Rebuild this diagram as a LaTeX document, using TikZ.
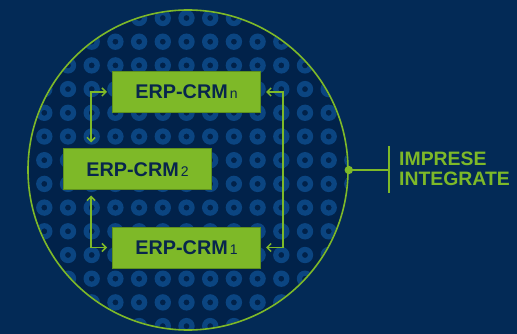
\documentclass[tikz,border=0pt]{standalone}
\usepackage{fontspec}
\setmainfont{Liberation Sans}
\usetikzlibrary{arrows.meta}
\definecolor{bgout}{HTML}{032A56}
\definecolor{bgin}{HTML}{01224A}
\definecolor{ringc}{HTML}{0B4581}
\definecolor{lgreen}{HTML}{7EB928}
\definecolor{dgreen}{HTML}{5E901E}
\definecolor{navytxt}{HTML}{08264C}
\tikzset{
  erpbox/.style={draw=dgreen, line width=1pt, fill=lgreen, minimum width=148pt, minimum height=41pt, inner sep=0pt, text=navytxt, font=\fontsize{19.8}{20}\selectfont\bfseries},
  conn/.style={draw=lgreen, line width=1.5pt, {Straight Barb[length=4pt,width=8pt]}-{Straight Barb[length=4pt,width=8pt]}},
  gline/.style={draw=lgreen, line width=1.6pt}
}
\newcommand{\erp}[1]{ERP-CRM\kern2pt{\fontsize{14}{14}\selectfont\mdseries #1}}
\begin{document}
\begin{tikzpicture}[x=1pt,y=-1pt]
\fill[bgout] (0,0) rectangle (517,334);
\useasboundingbox (0,0) rectangle (517,334);
\fill[bgin] (188,170) circle (160);
\begin{scope}
  \clip (188,170) circle (159);
  \foreach \i in {-1,...,14}{
    \foreach \j in {-1,...,14}{
      \fill[ringc, even odd rule] ({44.3+23.7*\i},{18+23.7*\j}) circle (8.2) ({44.3+23.7*\i},{18+23.7*\j}) circle (3.0);
    }
  }
\end{scope}
\node[draw=lgreen, line width=1.6pt, circle, minimum size=320pt, inner sep=0pt] (big) at (188,170) {};

\node[erpbox] (bn) at (186.5,92) {\erp{n}};
\node[erpbox] (b2) at (137.5,169.5) {\erp{2}};
\node[erpbox] (b1) at (186.5,247.5) {\erp{1}};

\draw[conn] ([xshift=-5pt]bn.west) -| ([xshift=28pt,yshift=6pt]b2.north west);
\draw[conn] ([xshift=28pt,yshift=-5pt]b2.south west) |- ([xshift=-5pt]b1.west);
\coordinate (rc) at (283,92);
\draw[conn] ([xshift=5pt]bn.east) -- (rc) |- ([xshift=5pt]b1.east);

\fill[lgreen] (big.east) circle (4.2);
\coordinate (bar) at (389,170);
\draw[gline] (big.east) -- (bar);
\draw[gline] ([yshift=24pt]bar) -- ([yshift=-23pt]bar);
\node[anchor=north west, inner sep=0pt, align=left, text=lgreen, font=\fontsize{19.4}{20}\selectfont\bfseries] (lbl) at (399,152) {IMPRESE\\INTEGRATE};
\end{tikzpicture}
\end{document}
